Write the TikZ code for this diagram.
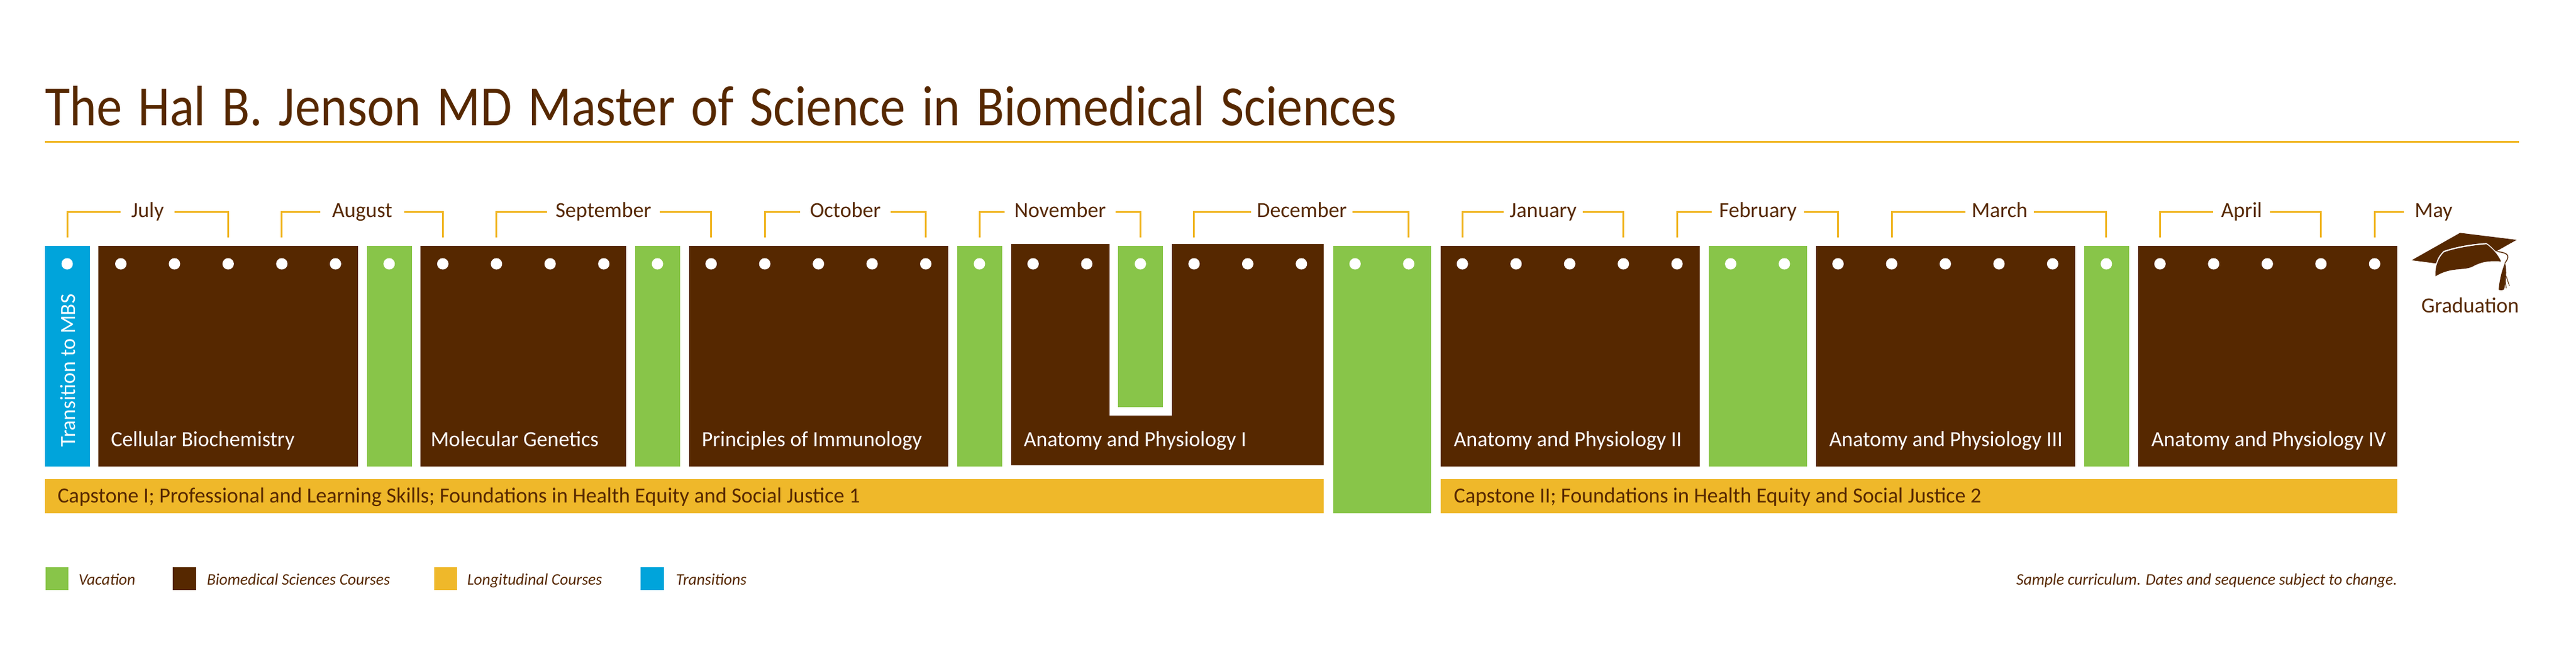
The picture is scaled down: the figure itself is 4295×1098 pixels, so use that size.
\documentclass[tikz,border=0pt]{standalone}
\usepackage{fontspec}
\setmainfont[FakeStretch=0.99]{Carlito}
\newfontfamily\titlefont[FakeStretch=0.895,WordSpace=1.4]{Carlito}
\usetikzlibrary{positioning}
\usetikzlibrary{calc}
\definecolor{mbsbrown}{HTML}{562800}
\definecolor{mbsgreen}{HTML}{88C549}
\definecolor{mbsgold}{HTML}{EFB82A}
\definecolor{mbsline}{HTML}{F0B41E}
\definecolor{mbsblue}{HTML}{00A4DB}
\tikzset{every node/.style={inner sep=0pt,outer sep=0pt}}
\begin{document}
\begin{tikzpicture}[x=1pt,y=-1pt,
brownbox/.style={fill=mbsbrown},greenbox/.style={fill=mbsgreen},goldbox/.style={fill=mbsgold},bluebox/.style={fill=mbsblue},
dot/.style={circle,fill=white,minimum width=19pt},
bracket/.style={draw=mbsline,line width=3pt},
month/.style={text=mbsbrown,anchor=base,text height=18pt,text depth=0pt,font=\fontsize{36}{40}\selectfont},
courselabel/.style={text=white,anchor=base west,font=\fontsize{36}{40}\selectfont},
goldlabel/.style={text=mbsbrown,anchor=base west,font=\fontsize{36}{40}\selectfont},
legendlabel/.style={text=mbsbrown,anchor=base west,font=\fontsize{27}{30}\selectfont\itshape}]
\useasboundingbox (0,0) rectangle (4295,1098);
\node (title) at (75,209) [anchor=base west,text=mbsbrown,font=\titlefont\fontsize{95}{100}\selectfont] {The Hal B. Jenson MD Master of Science in Biomedical Sciences};
\coordinate (ruleL) at (75,236);
\coordinate (ruleR) at (4200,236);
\draw[mbsline,line width=3pt] (ruleL) -- (ruleR);
% blocks: name/left/right/top/bottom/style
\foreach \n/\l/\r/\t/\b/\s in {trans/75/150/410/778/bluebox,
cell/164/597/410/778/brownbox,vac1/612/687/410/778/greenbox,
gene/701/1044/410/778/brownbox,vac2/1059/1134/410/778/greenbox,
immu/1149/1581/410/778/brownbox,vac3/1596/1671/410/778/greenbox,
anaA/1686/1850/407/776/brownbox,anaB/1954/2207/407/776/brownbox,anaC/1850/1954/693/776/brownbox,
vac4/1864/1939/410/679/greenbox,vac5/2223/2386/410/856/greenbox,
anaII/2402/2834/410/778/brownbox,vac6/2849/3013/410/778/greenbox,
anaIII/3028/3460/410/778/brownbox,vac7/3475/3550/410/778/greenbox,
anaIV/3565/3997/410/778/brownbox,
capA/75/2207/799/856/goldbox,capB/2402/3997/799/856/goldbox,
keyA/76/114/946/984/greenbox,keyB/288/327/946/984/brownbox,keyC/724/762/946/984/goldbox,keyD/1068/1107/946/984/bluebox} {
\node (\n) at ({(\l+\r)/2},{(\t+\b)/2}) [\s,minimum width={\r-\l},minimum height={\b-\t}] {};
}
\foreach \i in {0,...,43} {
\node (dot\i) at ({112+89.47*\i},440) [dot] {};
}
% months: name/first dot/last dot/gap left/gap right
\foreach \m/\a/\b/\l/\r in {July/0/3/201/291,August/4/7/534/674,September/8/12/912/1100,October/13/16/1334/1485,November/17/20/1675/1860,December/21/25/2086/2255,January/26/29/2507/2639,February/30/33/2854/3008,March/34/38/3277/3391,April/39/42/3690/3785} {
\node (\m) at ({(\l+\r)/2},362) [month,minimum width={\r-\l}] {\m};
\coordinate (\m L) at (dot\a |- 0,396);
\coordinate (\m R) at (dot\b |- 0,396);
\draw[bracket] (\m.west) -| (\m L);
\draw[bracket] (\m.east) -| (\m R);
}
\node (May) at (4026,362) [month,anchor=base west,minimum width=59pt] {May};
\coordinate (May L) at (dot43 |- 0,396);
\coordinate (May G) at (4008,353);
\draw[bracket] (May G) -| (May L);
\node (cell lab) at ($(cell.south west)+(21,-34)$) [courselabel] {Cellular Biochemistry};
\node (gene lab) at ($(gene.south west)+(17,-34)$) [courselabel] {Molecular Genetics};
\node (immu lab) at ($(immu.south west)+(21,-34)$) [courselabel] {Principles of Immunology};
\node (anaI lab) at ($(anaA.south west)+(21,-32)$) [courselabel] {Anatomy and Physiology I};
\node (anaII lab) at ($(anaII.south west)+(22,-34)$) [courselabel] {Anatomy and Physiology II};
\node (anaIII lab) at ($(anaIII.south west)+(22,-34)$) [courselabel] {Anatomy and Physiology III};
\node (anaIV lab) at ($(anaIV.south west)+(22,-34)$) [courselabel] {Anatomy and Physiology IV};
\node (trans lab) at (125,745) [text=white,anchor=base west,rotate=90,font=\fontsize{36}{40}\selectfont] {Transition to MBS};
\node (capA lab) at ($(capA.south west)+(21,-18)$) [goldlabel] {Capstone I; Professional and Learning Skills; Foundations in Health Equity and Social Justice 1};
\node (capB lab) at ($(capB.south west)+(22,-18)$) [goldlabel] {Capstone II; Foundations in Health Equity and Social Justice 2};
\node (keyA lab) at (131,975) [legendlabel] {Vacation};
\node (keyB lab) at (345,975) [legendlabel] {Biomedical Sciences Courses};
\node (keyC lab) at (779,975) [legendlabel] {Longitudinal Courses};
\node (keyD lab) at (1127,975) [legendlabel] {Transitions};
\node (note) at (3997,975) [legendlabel,anchor=base east] {Sample curriculum. Dates and sequence subject to change.};
% graduation cap
\begin{scope}[shift={(3980,350)},x=0.3333pt,y=-0.3333pt]
\fill[mbsbrown] (123,252) -- (365,115) -- (648,150) -- (545,208) .. controls (525,190) and (510,172) .. (497,166) .. controls (420,170) and (340,185) .. (283,205) .. controls (262,225) and (250,245) .. (245,268) -- cycle;
\fill[mbsbrown] (242,332) .. controls (238,280) and (260,235) .. (285,212) .. controls (340,192) and (420,178) .. (497,172) .. controls (530,195) and (555,225) .. (570,258) .. controls (500,252) and (460,265) .. (425,285) .. controls (380,305) and (320,285) .. (242,332) -- cycle;
\draw[mbsbrown,line width=1.5pt] (550,208) .. controls (590,215) and (625,220) .. (590,265);
\fill[mbsbrown] (590,265) .. controls (600,300) and (595,360) .. (585,398) .. controls (575,404) and (565,402) .. (558,400) .. controls (562,350) and (575,300) .. (590,265) -- cycle;
\draw[mbsbrown,line width=1pt] (595,330) -- (612,380);
\draw[mbsbrown,line width=1pt] (590,350) -- (596,392);
\end{scope}
\node (grad) at (4037,521) [anchor=base west,text=mbsbrown,font=\fontsize{36}{40}\selectfont] {Graduation};
\end{tikzpicture}
\end{document}
